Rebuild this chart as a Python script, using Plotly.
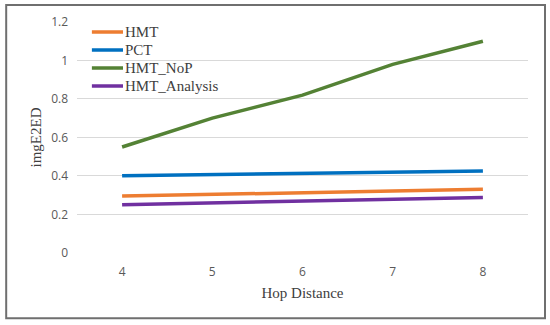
import plotly.graph_objects as go

hops = [4, 5, 6, 7, 8]
hmt = [0.295, 0.305, 0.313, 0.321, 0.330]
pct = [0.400, 0.406, 0.412, 0.418, 0.425]
hmt_nop = [0.55, 0.70, 0.82, 0.98, 1.10]
hmt_analysis = [0.250, 0.259, 0.268, 0.278, 0.288]

series = [
    ("HMT", hmt, "#ED7D31"),
    ("PCT", pct, "#0070C0"),
    ("HMT_NoP", hmt_nop, "#548235"),
    ("HMT_Analysis", hmt_analysis, "#7030A0"),
]

fig = go.Figure()
shapes = [dict(type="rect", xref="paper", yref="paper",
               x0=-0.157, x1=1.0377, y0=-0.282, y1=1.0736,
               line=dict(color="#6F6F6F", width=2), fillcolor="rgba(0,0,0,0)")]
annotations = []
leg_top, leg_step = 0.957, 0.078
for i, (name, vals, col) in enumerate(series):
    fig.add_trace(go.Scatter(x=hops, y=vals, name=name, mode="lines",
                             line=dict(color=col, width=3.5)))
    ly = leg_top - i * leg_step
    shapes.append(dict(type="line", xref="paper", yref="paper",
                       x0=0.033, x1=0.102, y0=ly, y1=ly,
                       line=dict(color=col, width=3.5)))
    annotations.append(dict(xref="paper", yref="paper", x=0.103, y=ly,
                            xanchor="left", yanchor="middle", showarrow=False,
                            text=name,
                            font=dict(family="Liberation Serif", size=15, color="#404040")))

fig.update_layout(
    width=550, height=325,
    margin=dict(l=77, r=22, t=22, b=72),
    paper_bgcolor="white", plot_bgcolor="white",
    showlegend=False,
    xaxis=dict(range=[3.5, 8.5], tickvals=hops, showgrid=False, zeroline=False,
               showline=False, ticks="", ticklabelstandoff=10,
               tickfont=dict(family="Open Sans", size=12, color="#595959"),
               title=dict(text="Hop Distance", standoff=8,
                          font=dict(family="Liberation Serif", size=15, color="#404040"))),
    yaxis=dict(range=[-0.001, 1.2], dtick=0.2, showgrid=True, gridcolor="#D9D9D9",
               gridwidth=1, zeroline=False, showline=False,
               tickformat="~g", ticks="", ticklen=0, ticklabelstandoff=8,
               tickfont=dict(family="Open Sans", size=12, color="#595959"),
               title=dict(text="imgE2ED", standoff=5,
                          font=dict(family="Liberation Serif", size=15, color="#404040"))),
    shapes=shapes,
    annotations=annotations,
)
fig.write_html("out.html", config={"displayModeBar": False},
               post_script="document.body.style.margin='0';document.body.style.overflow='hidden';")
